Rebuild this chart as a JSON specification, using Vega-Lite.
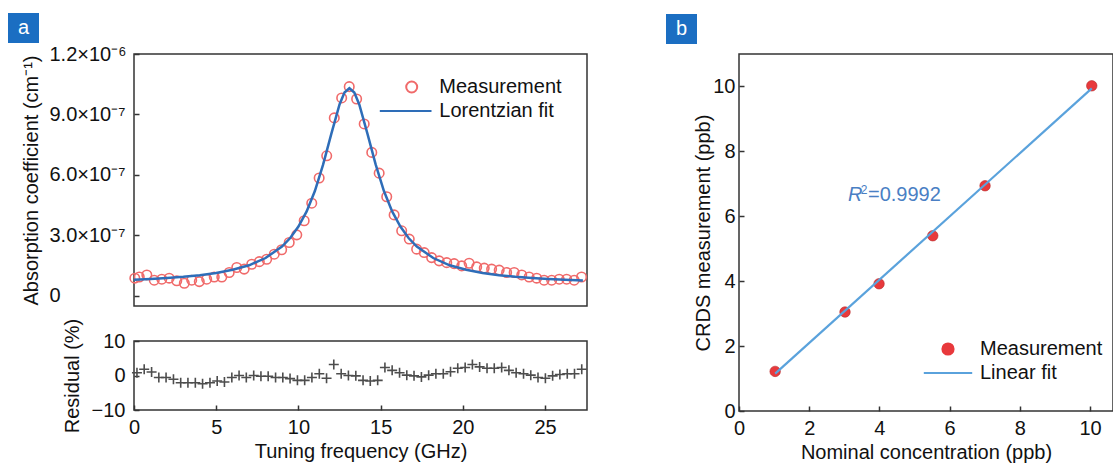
{
  "$schema": "https://vega.github.io/schema/vega-lite/v6.json",
  "padding": {"left": 7, "top": 12, "right": 0, "bottom": 0},
  "background": "white",
  "datasets": {
    "meas": [
      {"frequency": 0.05, "alpha": 8.8e-8, "series": "Measurement"}, {"frequency": 0.32, "alpha": 9.4e-8, "series": "Measurement"}, {"frequency": 0.78, "alpha": 1.04e-7, "series": "Measurement"},
      {"frequency": 1.23, "alpha": 7.8e-8, "series": "Measurement"}, {"frequency": 1.69, "alpha": 8.3e-8, "series": "Measurement"}, {"frequency": 2.14, "alpha": 8.8e-8, "series": "Measurement"},
      {"frequency": 2.60, "alpha": 7.5e-8, "series": "Measurement"}, {"frequency": 3.06, "alpha": 6.3e-8, "series": "Measurement"}, {"frequency": 3.51, "alpha": 7.8e-8, "series": "Measurement"},
      {"frequency": 3.97, "alpha": 7.1e-8, "series": "Measurement"}, {"frequency": 4.42, "alpha": 8.3e-8, "series": "Measurement"}, {"frequency": 4.88, "alpha": 9.4e-8, "series": "Measurement"},
      {"frequency": 5.34, "alpha": 9.4e-8, "series": "Measurement"}, {"frequency": 5.79, "alpha": 1.16e-7, "series": "Measurement"}, {"frequency": 6.25, "alpha": 1.41e-7, "series": "Measurement"},
      {"frequency": 6.70, "alpha": 1.33e-7, "series": "Measurement"}, {"frequency": 7.16, "alpha": 1.57e-7, "series": "Measurement"}, {"frequency": 7.62, "alpha": 1.70e-7, "series": "Measurement"},
      {"frequency": 8.07, "alpha": 1.82e-7, "series": "Measurement"}, {"frequency": 8.53, "alpha": 2.07e-7, "series": "Measurement"}, {"frequency": 8.98, "alpha": 2.29e-7, "series": "Measurement"},
      {"frequency": 9.44, "alpha": 2.65e-7, "series": "Measurement"}, {"frequency": 9.90, "alpha": 3.03e-7, "series": "Measurement"}, {"frequency": 10.35, "alpha": 3.73e-7, "series": "Measurement"},
      {"frequency": 10.81, "alpha": 4.60e-7, "series": "Measurement"}, {"frequency": 11.26, "alpha": 5.85e-7, "series": "Measurement"}, {"frequency": 11.72, "alpha": 6.95e-7, "series": "Measurement"},
      {"frequency": 12.18, "alpha": 8.83e-7, "series": "Measurement"}, {"frequency": 12.63, "alpha": 9.82e-7, "series": "Measurement"}, {"frequency": 13.09, "alpha": 1.038e-6, "series": "Measurement"},
      {"frequency": 13.54, "alpha": 9.77e-7, "series": "Measurement"}, {"frequency": 14.00, "alpha": 8.53e-7, "series": "Measurement"}, {"frequency": 14.46, "alpha": 7.12e-7, "series": "Measurement"},
      {"frequency": 14.91, "alpha": 6.09e-7, "series": "Measurement"}, {"frequency": 15.37, "alpha": 4.92e-7, "series": "Measurement"}, {"frequency": 15.82, "alpha": 4.02e-7, "series": "Measurement"},
      {"frequency": 16.28, "alpha": 3.23e-7, "series": "Measurement"}, {"frequency": 16.74, "alpha": 2.82e-7, "series": "Measurement"}, {"frequency": 17.19, "alpha": 2.32e-7, "series": "Measurement"},
      {"frequency": 17.65, "alpha": 2.15e-7, "series": "Measurement"}, {"frequency": 18.10, "alpha": 1.90e-7, "series": "Measurement"}, {"frequency": 18.56, "alpha": 1.74e-7, "series": "Measurement"},
      {"frequency": 19.02, "alpha": 1.65e-7, "series": "Measurement"}, {"frequency": 19.47, "alpha": 1.60e-7, "series": "Measurement"}, {"frequency": 19.93, "alpha": 1.49e-7, "series": "Measurement"},
      {"frequency": 20.38, "alpha": 1.62e-7, "series": "Measurement"}, {"frequency": 20.84, "alpha": 1.44e-7, "series": "Measurement"}, {"frequency": 21.30, "alpha": 1.38e-7, "series": "Measurement"},
      {"frequency": 21.75, "alpha": 1.33e-7, "series": "Measurement"}, {"frequency": 22.21, "alpha": 1.28e-7, "series": "Measurement"}, {"frequency": 22.66, "alpha": 1.16e-7, "series": "Measurement"},
      {"frequency": 23.12, "alpha": 1.16e-7, "series": "Measurement"}, {"frequency": 23.58, "alpha": 1.04e-7, "series": "Measurement"}, {"frequency": 24.03, "alpha": 9.4e-8, "series": "Measurement"},
      {"frequency": 24.49, "alpha": 8.8e-8, "series": "Measurement"}, {"frequency": 24.94, "alpha": 7.8e-8, "series": "Measurement"}, {"frequency": 25.40, "alpha": 7.8e-8, "series": "Measurement"},
      {"frequency": 25.86, "alpha": 8.3e-8, "series": "Measurement"}, {"frequency": 26.31, "alpha": 8.3e-8, "series": "Measurement"}, {"frequency": 26.77, "alpha": 7.8e-8, "series": "Measurement"},
      {"frequency": 27.22, "alpha": 9.4e-8, "series": "Measurement"}
    ],
    "fit": [
      {"frequency": 0, "alpha": 8.0e-8, "series": "Lorentzian fit"}, {"frequency": 1, "alpha": 8.4e-8, "series": "Lorentzian fit"}, {"frequency": 2, "alpha": 8.9e-8, "series": "Lorentzian fit"},
      {"frequency": 3, "alpha": 9.5e-8, "series": "Lorentzian fit"}, {"frequency": 4, "alpha": 1.03e-7, "series": "Lorentzian fit"}, {"frequency": 5, "alpha": 1.14e-7, "series": "Lorentzian fit"},
      {"frequency": 6, "alpha": 1.30e-7, "series": "Lorentzian fit"}, {"frequency": 7, "alpha": 1.52e-7, "series": "Lorentzian fit"}, {"frequency": 8, "alpha": 1.88e-7, "series": "Lorentzian fit"},
      {"frequency": 9, "alpha": 2.45e-7, "series": "Lorentzian fit"}, {"frequency": 9.5, "alpha": 2.87e-7, "series": "Lorentzian fit"}, {"frequency": 10, "alpha": 3.44e-7, "series": "Lorentzian fit"},
      {"frequency": 10.5, "alpha": 4.19e-7, "series": "Lorentzian fit"}, {"frequency": 11, "alpha": 5.20e-7, "series": "Lorentzian fit"}, {"frequency": 11.5, "alpha": 6.51e-7, "series": "Lorentzian fit"},
      {"frequency": 12, "alpha": 8.04e-7, "series": "Lorentzian fit"}, {"frequency": 12.5, "alpha": 9.50e-7, "series": "Lorentzian fit"}, {"frequency": 12.8, "alpha": 1.009e-6, "series": "Lorentzian fit"},
      {"frequency": 13.1, "alpha": 1.030e-6, "series": "Lorentzian fit"}, {"frequency": 13.4, "alpha": 1.009e-6, "series": "Lorentzian fit"}, {"frequency": 13.7, "alpha": 9.50e-7, "series": "Lorentzian fit"},
      {"frequency": 14.2, "alpha": 8.04e-7, "series": "Lorentzian fit"}, {"frequency": 14.7, "alpha": 6.51e-7, "series": "Lorentzian fit"}, {"frequency": 15.2, "alpha": 5.20e-7, "series": "Lorentzian fit"},
      {"frequency": 15.7, "alpha": 4.19e-7, "series": "Lorentzian fit"}, {"frequency": 16.2, "alpha": 3.44e-7, "series": "Lorentzian fit"}, {"frequency": 16.7, "alpha": 2.87e-7, "series": "Lorentzian fit"},
      {"frequency": 17.2, "alpha": 2.45e-7, "series": "Lorentzian fit"}, {"frequency": 18.2, "alpha": 1.88e-7, "series": "Lorentzian fit"}, {"frequency": 19.2, "alpha": 1.52e-7, "series": "Lorentzian fit"},
      {"frequency": 20.2, "alpha": 1.30e-7, "series": "Lorentzian fit"}, {"frequency": 21.2, "alpha": 1.14e-7, "series": "Lorentzian fit"}, {"frequency": 22.2, "alpha": 1.03e-7, "series": "Lorentzian fit"},
      {"frequency": 23.2, "alpha": 9.5e-8, "series": "Lorentzian fit"}, {"frequency": 24.2, "alpha": 8.9e-8, "series": "Lorentzian fit"}, {"frequency": 25.2, "alpha": 8.4e-8, "series": "Lorentzian fit"},
      {"frequency": 26.2, "alpha": 8.0e-8, "series": "Lorentzian fit"}, {"frequency": 27.3, "alpha": 7.7e-8, "series": "Lorentzian fit"}
    ],
    "resid": [
      {"frequency": 0.18, "residual": 0.8}, {"frequency": 0.62, "residual": 1.8}, {"frequency": 1.07, "residual": 1.0},
      {"frequency": 1.51, "residual": -0.6}, {"frequency": 1.95, "residual": -0.6}, {"frequency": 2.40, "residual": -1.1},
      {"frequency": 2.84, "residual": -2.1}, {"frequency": 3.28, "residual": -2.1}, {"frequency": 3.73, "residual": -2.1},
      {"frequency": 4.17, "residual": -2.4}, {"frequency": 4.62, "residual": -2.1}, {"frequency": 5.06, "residual": -1.6},
      {"frequency": 5.50, "residual": -1.9}, {"frequency": 5.95, "residual": -0.6}, {"frequency": 6.39, "residual": 0.0},
      {"frequency": 6.83, "residual": -0.6}, {"frequency": 7.28, "residual": 0.0}, {"frequency": 7.72, "residual": -0.2},
      {"frequency": 8.16, "residual": -0.2}, {"frequency": 8.61, "residual": -0.6}, {"frequency": 9.05, "residual": -0.6},
      {"frequency": 9.49, "residual": -0.9}, {"frequency": 9.94, "residual": -1.4}, {"frequency": 10.38, "residual": -1.4},
      {"frequency": 10.82, "residual": -0.6}, {"frequency": 11.27, "residual": 0.5}, {"frequency": 11.71, "residual": -0.8},
      {"frequency": 12.15, "residual": 3.2}, {"frequency": 12.60, "residual": 0.5}, {"frequency": 13.04, "residual": 0.0},
      {"frequency": 13.49, "residual": -0.1}, {"frequency": 13.93, "residual": -1.4}, {"frequency": 14.37, "residual": -1.6},
      {"frequency": 14.82, "residual": -1.4}, {"frequency": 15.26, "residual": 2.3}, {"frequency": 15.70, "residual": 1.5},
      {"frequency": 16.15, "residual": 0.8}, {"frequency": 16.59, "residual": 0.1}, {"frequency": 17.03, "residual": -0.1},
      {"frequency": 17.48, "residual": -0.4}, {"frequency": 17.92, "residual": 0.1}, {"frequency": 18.36, "residual": 0.5},
      {"frequency": 18.81, "residual": 0.5}, {"frequency": 19.25, "residual": 1.1}, {"frequency": 19.69, "residual": 2.1},
      {"frequency": 20.14, "residual": 2.3}, {"frequency": 20.58, "residual": 3.2}, {"frequency": 21.02, "residual": 2.5},
      {"frequency": 21.47, "residual": 2.1}, {"frequency": 21.91, "residual": 2.1}, {"frequency": 22.36, "residual": 2.3},
      {"frequency": 22.80, "residual": 1.5}, {"frequency": 23.24, "residual": 0.8}, {"frequency": 23.69, "residual": 0.5},
      {"frequency": 24.13, "residual": 0.1}, {"frequency": 24.57, "residual": -0.6}, {"frequency": 25.02, "residual": -0.8},
      {"frequency": 25.46, "residual": -0.1}, {"frequency": 25.90, "residual": 0.3}, {"frequency": 26.35, "residual": 0.5},
      {"frequency": 26.79, "residual": 0.5}, {"frequency": 27.23, "residual": 1.8}
    ],
    "calib": [
      {"nominal": 1.03, "crds": 1.22, "series": "Measurement"}, {"nominal": 3.02, "crds": 3.05, "series": "Measurement"}, {"nominal": 3.99, "crds": 3.92, "series": "Measurement"},
      {"nominal": 5.52, "crds": 5.40, "series": "Measurement"}, {"nominal": 7.01, "crds": 6.94, "series": "Measurement"}, {"nominal": 10.05, "crds": 10.02, "series": "Measurement"}
    ],
    "calibfit": [
      {"nominal": 1.03, "crds": 1.15, "series": "Linear fit"}, {"nominal": 10.05, "crds": 9.94, "series": "Linear fit"}
    ],
    "labelA": [{"label": "a"}],
    "labelB": [{"label": "b"}]
  },
  "spacing": 74,
  "resolve": {"scale": {"color": "independent", "shape": "independent"}, "legend": {"color": "independent", "shape": "independent"}},
  "hconcat": [
    {
      "spacing": 10,
      "vconcat": [
        {
          "width": 453,
          "height": 252,
          "layer": [
            {
              "data": {"name": "labelA"},
              "mark": {"type": "rect", "color": "#1b6ec2"},
              "encoding": {
                "x": {"datum": -7.663, "type": "quantitative", "axis": null},
                "x2": {"datum": -5.778},
                "y": {"datum": 1.4034e-6, "type": "quantitative", "axis": {"title": "Absorption coefficient (cm⁻¹)"}},
                "y2": {"datum": 1.2546e-6}
              }
            },
            {
              "data": {"name": "labelA"},
              "mark": {"type": "text", "color": "white", "fontSize": 20, "align": "center", "baseline": "middle"},
              "encoding": {
                "text": {"field": "label"},
                "x": {"datum": -6.72, "type": "quantitative", "axis": null},
                "y": {"datum": 1.331e-6, "type": "quantitative", "axis": {"title": "Absorption coefficient (cm⁻¹)"}}
              }
            },
            {
              "data": {"name": "meas"},
              "mark": {"type": "point", "filled": false, "size": 90, "strokeWidth": 1.6, "opacity": 1},
              "encoding": {
                "x": {"field": "frequency", "type": "quantitative", "scale": {"domain": [0, 27.55], "nice": false, "zero": false}, "axis": null},
                "y": {
                  "field": "alpha", "type": "quantitative",
                  "scale": {"domain": [-5e-8, 1.2e-6], "nice": false, "zero": false},
                  "axis": {
                    "title": "Absorption coefficient (cm⁻¹)",
                    "values": [0, 3e-7, 6e-7, 9e-7, 1.2e-6],
                    "labelExpr": "datum.value == 0 ? '0' : datum.value > 1.1e-6 ? '1.2×10⁻⁶' : datum.value > 8e-7 ? '9.0×10⁻⁷' : datum.value > 5e-7 ? '6.0×10⁻⁷' : '3.0×10⁻⁷'",
                    "labelAlign": "left",
                    "labelPadding": 90,
                    "titlePadding": 8
                  }
                },
                "color": {
                  "field": "series", "type": "nominal",
                  "scale": {"domain": ["Measurement", "Lorentzian fit"], "range": ["#f06a6a", "#2e6db8"]},
                  "legend": {
                    "orient": "none", "legendX": 267.7, "legendY": 23, "title": null, "padding": 0,
                    "labelFontSize": 20, "labelColor": "#111111", "symbolSize": 121, "labelOffset": 17.6, "rowPadding": 4,
                    "symbolStrokeWidth": 2
                  }
                },
                "shape": {
                  "field": "series", "type": "nominal",
                  "scale": {"domain": ["Measurement", "Lorentzian fit"], "range": ["circle", "M-5.8,0H3.6"]}
                }
              }
            },
            {
              "data": {"name": "fit"},
              "mark": {"type": "line", "strokeWidth": 2.5},
              "encoding": {
                "x": {"field": "frequency", "type": "quantitative", "axis": null},
                "y": {"field": "alpha", "type": "quantitative", "axis": {"title": "Absorption coefficient (cm⁻¹)"}},
                "color": {"field": "series", "type": "nominal"}
              }
            }
          ]
        },
        {
          "width": 453,
          "height": 69,
          "data": {"name": "resid"},
          "mark": {"type": "point", "shape": "M-1,0H1M0,-1V1", "size": 100, "strokeWidth": 1.6, "color": "#4d4d4d", "filled": false, "opacity": 1},
          "encoding": {
            "x": {
              "field": "frequency", "type": "quantitative",
              "scale": {"domain": [0, 27.55], "nice": false, "zero": false},
              "axis": {"title": "Tuning frequency (GHz)", "values": [0, 5, 10, 15, 20, 25], "labelFlush": false, "labelPadding": 12, "titlePadding": 4}
            },
            "y": {
              "field": "residual", "type": "quantitative",
              "scale": {"domain": [-10, 10], "nice": false, "zero": false},
              "axis": {"title": "Residual (%)", "values": [-10, 0, 10], "labelPadding": 14, "titlePadding": 9}
            }
          }
        }
      ]
    },
    {
      "width": 374,
      "height": 357,
      "layer": [
        {
          "data": {"name": "labelB"},
          "mark": {"type": "rect", "color": "#1b6ec2"},
          "encoding": {
            "x": {"datum": -2.08, "type": "quantitative", "axis": {"title": "Nominal concentration (ppb)"}},
            "x2": {"datum": -1.197},
            "y": {"datum": 12.2325, "type": "quantitative", "axis": {"title": "CRDS measurement (ppb)"}},
            "y2": {"datum": 11.308}
          }
        },
        {
          "data": {"name": "labelB"},
          "mark": {"type": "text", "color": "white", "fontSize": 20, "align": "center", "baseline": "middle"},
          "encoding": {
            "text": {"field": "label"},
            "x": {"datum": -1.638, "type": "quantitative", "axis": {"title": "Nominal concentration (ppb)"}},
            "y": {"datum": 11.77, "type": "quantitative", "axis": {"title": "CRDS measurement (ppb)"}}
          }
        },
        {
          "data": {"name": "labelB"},
          "mark": {"type": "text", "text": "R", "color": "#4a7fc4", "fontSize": 20, "fontStyle": "italic", "align": "left", "baseline": "alphabetic"},
          "encoding": {
            "x": {"datum": 3.105, "type": "quantitative", "axis": {"title": "Nominal concentration (ppb)"}},
            "y": {"datum": 6.46, "type": "quantitative", "axis": {"title": "CRDS measurement (ppb)"}}
          }
        },
        {
          "data": {"name": "labelB"},
          "mark": {"type": "text", "text": "2", "color": "#4a7fc4", "fontSize": 12, "align": "left", "baseline": "alphabetic"},
          "encoding": {
            "x": {"datum": 3.47, "type": "quantitative", "axis": {"title": "Nominal concentration (ppb)"}},
            "y": {"datum": 6.7, "type": "quantitative", "axis": {"title": "CRDS measurement (ppb)"}}
          }
        },
        {
          "data": {"name": "labelB"},
          "mark": {"type": "text", "text": "=0.9992", "color": "#4a7fc4", "fontSize": 20, "align": "left", "baseline": "alphabetic"},
          "encoding": {
            "x": {"datum": 3.675, "type": "quantitative", "axis": {"title": "Nominal concentration (ppb)"}},
            "y": {"datum": 6.46, "type": "quantitative", "axis": {"title": "CRDS measurement (ppb)"}}
          }
        },
        {
          "data": {"name": "calib"},
          "mark": {"type": "point", "filled": true, "size": 110, "opacity": 1, "stroke": "#b52a2a", "strokeWidth": 0.6},
          "encoding": {
            "x": {
              "field": "nominal", "type": "quantitative",
              "scale": {"domain": [0, 10.655], "nice": false, "zero": false},
              "axis": {"title": "Nominal concentration (ppb)", "values": [0, 2, 4, 6, 8, 10], "labelFlush": false, "labelPadding": 12, "titlePadding": 4}
            },
            "y": {
              "field": "crds", "type": "quantitative",
              "scale": {"domain": [0, 11], "nice": false, "zero": false},
              "axis": {"title": "CRDS measurement (ppb)", "values": [0, 2, 4, 6, 8, 10], "labelPadding": 9, "titlePadding": -1}
            },
            "color": {
              "field": "series", "type": "nominal",
              "scale": {"domain": ["Measurement", "Linear fit"], "range": ["#e8393c", "#5aa2dc"]},
              "legend": {
                "orient": "none", "legendX": 199, "legendY": 285, "title": null, "padding": 0,
                "labelFontSize": 20, "labelColor": "#111111", "symbolSize": 121, "labelOffset": 22, "rowPadding": 4,
                "symbolStrokeWidth": 2.2
              }
            },
            "shape": {
              "field": "series", "type": "nominal",
              "scale": {"domain": ["Measurement", "Linear fit"], "range": ["circle", "M-4.4,0H4.4"]}
            }
          }
        },
        {
          "data": {"name": "calibfit"},
          "mark": {"type": "line", "strokeWidth": 2.2},
          "encoding": {
            "x": {"field": "nominal", "type": "quantitative", "axis": {"title": "Nominal concentration (ppb)"}},
            "y": {"field": "crds", "type": "quantitative", "axis": {"title": "CRDS measurement (ppb)"}},
            "color": {"field": "series", "type": "nominal"}
          }
        }
      ]
    }
  ],
  "config": {
    "font": "Liberation Sans",
    "view": {"stroke": "#333333", "strokeWidth": 1.5},
    "axis": {
      "labelFontSize": 20, "titleFontSize": 20, "titleFontWeight": "normal",
      "labelColor": "#111111", "titleColor": "#111111",
      "grid": false, "domain": false, "tickColor": "#333333", "tickSize": -5, "tickWidth": 1.5,
      "labelOverlap": false
    },
    "legend": {"labelFont": "Liberation Sans"}
  }
}
